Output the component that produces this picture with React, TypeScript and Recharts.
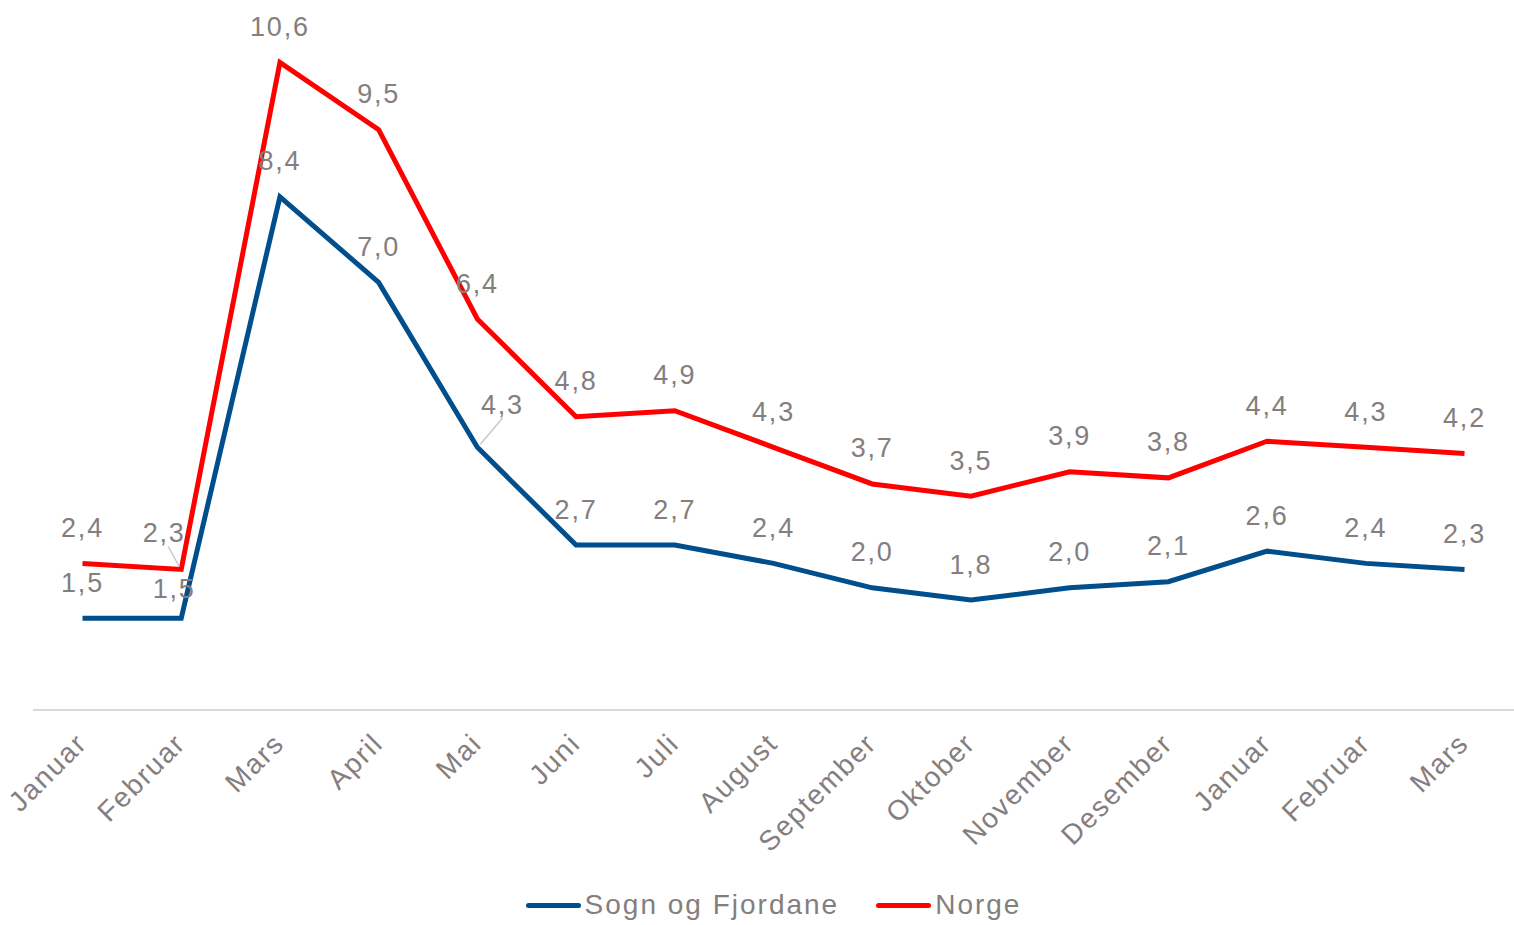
import React from 'react';
import { LineChart, Line, XAxis, YAxis, Legend, LabelList } from 'recharts';

const months = [
    'Januar', 'Februar', 'Mars', 'April', 'Mai', 'Juni', 'Juli', 'August',
    'September', 'Oktober', 'November', 'Desember', 'Januar', 'Februar', 'Mars',
];
const sognOgFjordane = [1.5, 1.5, 8.4, 7.0, 4.3, 2.7, 2.7, 2.4, 2.0, 1.8, 2.0, 2.1, 2.6, 2.4, 2.3];
const norge = [2.4, 2.3, 10.6, 9.5, 6.4, 4.8, 4.9, 4.3, 3.7, 3.5, 3.9, 3.8, 4.4, 4.3, 4.2];

const BLUE = '#004F8C';
const RED = '#FF0000';
const GREY_TEXT = '#847E7E';
const FONT = '"Liberation Sans", Arial, sans-serif';

const data = months.map((m, i) => ({ month: m, sogn: sognOgFjordane[i], norge: norge[i] }));

// label nudges for the few labels that were moved off the line in the original
const sognNudge: Record<number, { dx: number; dy: number; leader?: boolean }> = {
    1: { dx: -7, dy: 6 },
    4: { dx: 25, dy: -7, leader: true },
};
const norgeNudge: Record<number, { dx: number; dy: number; leader?: boolean }> = {
    1: { dx: -17, dy: -1, leader: true },
};

const fmt = (v: number) => v.toFixed(1).replace('.', ',');

const makeLabel = (nudge: Record<number, { dx: number; dy: number; leader?: boolean }>) => (props: any) => {
    const { x, y, value, index } = props;
    const n = nudge[index] || { dx: 0, dy: 0 };
    const cx = x + n.dx;
    const cy = y - 36 + n.dy;
    return (
        <g>
            {n.leader && (
                <line
                    x1={x + (n.dx > 0 ? 3 : -2)}
                    y1={y - 3}
                    x2={cx + (n.dx > 0 ? 0 : 4)}
                    y2={cy + 14}
                    stroke="#C8C8C8"
                    strokeWidth={1.5}
                />
            )}
            <text
                x={cx}
                y={cy + 9.5}
                textAnchor="middle"
                fill={GREY_TEXT}
                fontSize={27}
                fontFamily={FONT}
                letterSpacing={1.8}
            >
                {fmt(value)}
            </text>
        </g>
    );
};

const MonthTick = (props: any) => {
    const { x, payload } = props;
    const tx = x + 6;
    const ty = 745;
    return (
        <text
            x={tx}
            y={ty}
            textAnchor="end"
            transform={`rotate(-45, ${tx}, ${ty})`}
            fill={GREY_TEXT}
            fontSize={28}
            fontFamily={FONT}
            letterSpacing={1.8}
        >
            {payload.value}
        </text>
    );
};

const legendItems = [
    { name: 'Sogn og Fjordane', color: BLUE },
    { name: 'Norge', color: RED },
];

const ChartLegend = () => (
    <div
        style={{
            height: 40,
            display: 'flex',
            justifyContent: 'center',
            alignItems: 'center',
            fontFamily: FONT,
            fontSize: 28,
            letterSpacing: 2,
            color: GREY_TEXT,
        }}
    >
        {legendItems.map((item, i) => (
            <div key={item.name} style={{ display: 'flex', alignItems: 'center', marginLeft: i ? 37 : 0 }}>
                <div style={{ width: 55, height: 5, borderRadius: 3, background: item.color, marginRight: 4 }} />
                <span>{item.name}</span>
            </div>
        ))}
    </div>
);

export default function App() {
    return (
        <div style={{ position: 'absolute', left: 0, top: 0, width: 1514, height: 925, background: '#fff' }}>
            <LineChart
                width={1514}
                height={925}
                data={data}
                margin={{ top: 38, right: 0, left: 33, bottom: 0 }}
            >
                <XAxis
                    dataKey="month"
                    height={175}
                    padding={{ left: 49.5, right: 49.5 }}
                    axisLine={{ stroke: '#D9D9D9', strokeWidth: 2 }}
                    tickLine={false}
                    interval={0}
                    tick={<MonthTick />}
                />
                <YAxis hide domain={[0, 11]} />
                <Legend verticalAlign="bottom" content={<ChartLegend />} />
                <Line
                    dataKey="sogn"
                    name="Sogn og Fjordane"
                    stroke={BLUE}
                    strokeWidth={5}
                    dot={false}
                    isAnimationActive={false}
                >
                    <LabelList dataKey="sogn" content={makeLabel(sognNudge)} />
                </Line>
                <Line
                    dataKey="norge"
                    name="Norge"
                    stroke={RED}
                    strokeWidth={5}
                    dot={false}
                    isAnimationActive={false}
                >
                    <LabelList dataKey="norge" content={makeLabel(norgeNudge)} />
                </Line>
            </LineChart>
        </div>
    );
}
